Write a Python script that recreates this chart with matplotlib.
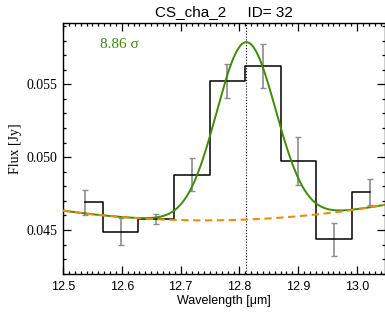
import numpy as np
import matplotlib
matplotlib.use('Agg')
import matplotlib.pyplot as plt
from matplotlib.ticker import MultipleLocator, FormatStrFormatter


# binned spectrum (bin centres in micron, flux in Jy)
wave = [12.5375, 12.5980, 12.6585, 12.7190, 12.7795,
        12.8400, 12.9005, 12.9610, 13.0215]
flux = [0.04690, 0.04488, 0.04575, 0.04879, 0.05523,
        0.05624, 0.04974, 0.04436, 0.04763]
err = [0.00084, 0.00094, 0.00036, 0.00113, 0.00115,
       0.00151, 0.00165, 0.00115, 0.00088]

# fitted continuum: c0 + c2 * (x - x0)^2
cont_x0 = 12.742
cont_c0 = 0.04566
cont_c2 = 0.01146
# fitted gaussian line
line_center = 12.8115
line_amp = 0.01218
line_sigma = 0.0505

title = 'CS_cha_2     ID= 32'
sig_label = '8.86 \u03c3'
green = '#418a05'
orange = '#ec8c0c'
grey = '#8c8c8c'


def continuum(x):
    return cont_c0 + cont_c2 * (x - cont_x0) ** 2


def model(x):
    return continuum(x) + line_amp * np.exp(-(x - line_center) ** 2 / (2 * line_sigma ** 2))


fig = plt.figure(figsize=(3.85, 3.18), dpi=100)
ax = fig.add_axes([63 / 385, 1 - 274.3 / 318, 321.5 / 385, 251.6 / 318])

xlim = (12.5, 13.0468)
ylim = (0.04196, 0.05923)
xx = np.linspace(xlim[0], xlim[1], 400)

ax.errorbar(wave, flux, yerr=err, fmt='none', ecolor=grey, elinewidth=1.2,
            capsize=2, capthick=1.0, zorder=2)
ax.plot(wave, flux, drawstyle='steps-mid', color='black', lw=1.1, zorder=3)
ax.plot(xx, model(xx), color=green, lw=1.4, zorder=4)
ax.plot(xx, continuum(xx), color=orange, lw=1.5, ls=(0, (3.5, 2.2)), zorder=5)
ax.axvline(line_center, color='black', lw=0.8, ls=(0, (1, 1.6)), zorder=1)

ax.set_xlim(*xlim)
ax.set_ylim(*ylim)

ax.xaxis.set_major_locator(MultipleLocator(0.1))
ax.xaxis.set_minor_locator(MultipleLocator(0.01))
ax.yaxis.set_major_locator(MultipleLocator(0.005))
ax.yaxis.set_minor_locator(MultipleLocator(0.001))
ax.xaxis.set_major_formatter(FormatStrFormatter('%.1f'))
ax.yaxis.set_major_formatter(FormatStrFormatter('%.3f'))
ax.tick_params(which='both', direction='in', top=True, right=True, width=0.9)
ax.tick_params(which='major', length=6)
ax.tick_params(which='minor', length=2.5)
ax.tick_params(axis='x', labelsize=9, pad=5)
ax.tick_params(axis='y', labelsize=10, pad=4)
for lab in ax.get_xticklabels():
    lab.set_family('Liberation Sans')
for lab in ax.get_yticklabels():
    lab.set_family('Liberation Serif')
for sp in ax.spines.values():
    sp.set_linewidth(1.0)

ax.set_title(title, fontsize=11, family='Liberation Sans', pad=5)
ax.set_xlabel('Wavelength [\u03bcm]', fontsize=9, family='Liberation Sans', labelpad=1)
ax.set_ylabel('Flux [Jy]', fontsize=10, family='Liberation Serif', labelpad=3)
ax.text(0.115, 0.915, sig_label, transform=ax.transAxes, color=green,
        fontsize=11, family='Liberation Serif', ha='left', va='center')

fig.savefig('out.png', dpi=100)
